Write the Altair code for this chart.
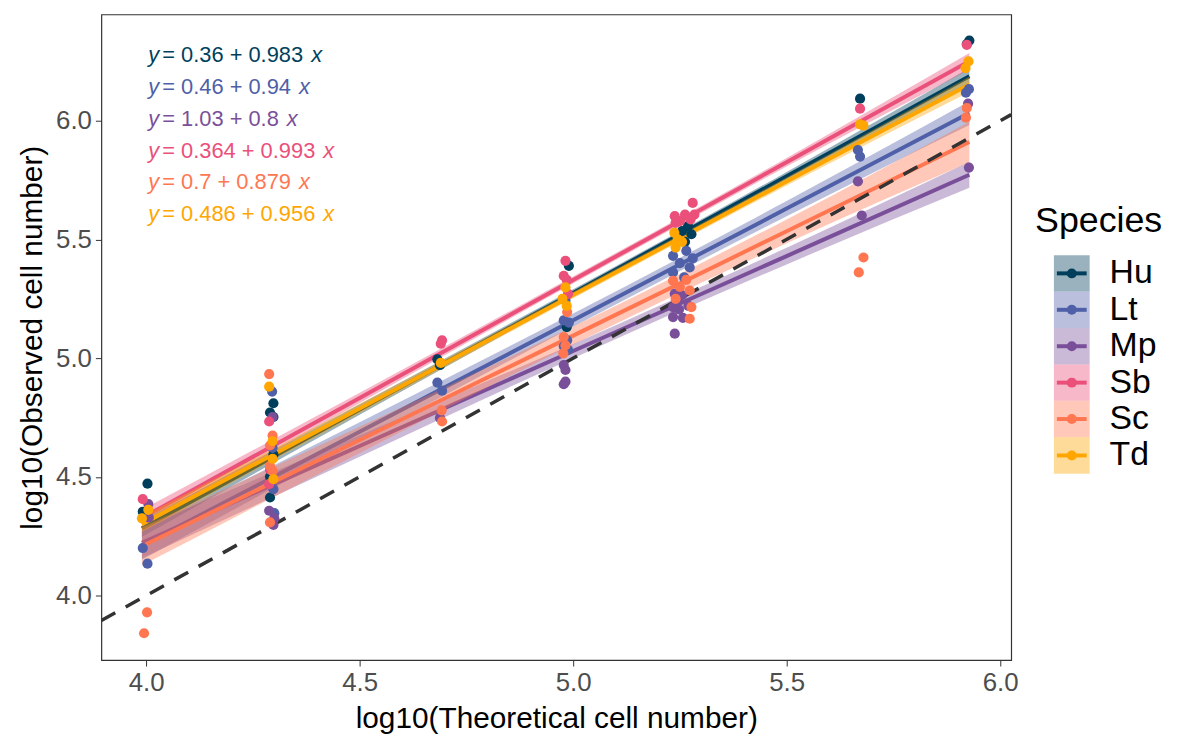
import altair as alt
import pandas as pd

FONT = "Liberation Sans"

SPECIES = ["Hu", "Lt", "Mp", "Sb", "Sc", "Td"]
COLORS = ["#003f5c", "#4f60a8", "#7a4f9a", "#ea507a", "#ff7651", "#ffa600"]
INTERCEPTS = [0.36, 0.46, 1.03, 0.364, 0.7, 0.486]
SLOPES = [0.983, 0.94, 0.8, 0.993, 0.879, 0.956]
EQ_MID = ["= 0.36 + 0.983", "= 0.46 + 0.94", "= 1.03 + 0.8",
          "= 0.364 + 0.993", "= 0.7 + 0.879", "= 0.486 + 0.956"]

X_TICKS = [4.0, 4.5, 5.0, 5.5, 6.0]
Y_TICKS = [4.0, 4.5, 5.0, 5.5, 6.0]
X_DOMAIN = [3.895, 6.026]
Y_DOMAIN = [3.728, 6.448]

# observed points (x, y) per species
HU_X = [4.003, 3.992, 4.298, 4.290, 4.298, 4.298, 4.290, 4.290, 4.682, 4.688,
        4.990, 4.985, 5.269, 5.277, 5.262, 5.255, 5.672, 5.928, 5.922]
HU_Y = [4.471, 4.353, 4.810, 4.771, 4.752, 4.594, 4.501, 4.413, 4.995, 4.971,
        5.389, 5.131, 5.556, 5.522, 5.490, 5.535, 6.093, 6.338, 6.323]
LT_X = [3.992, 4.003, 4.295, 4.296, 4.298, 4.300, 4.682, 4.693, 4.982, 4.978,
        4.990, 4.986, 4.978, 4.988, 5.234, 5.265, 5.273, 5.234, 5.250, 5.260,
        5.280, 5.667, 5.672, 5.927, 5.920]
LT_Y = [4.200, 4.134, 4.859, 4.622, 4.448, 4.347, 4.897, 4.863, 5.243, 5.159,
        5.150, 5.075, 5.050, 5.035, 5.431, 5.452, 5.382, 5.361, 5.400, 5.340,
        5.420, 5.877, 5.849, 6.133, 6.118]
MP_X = [4.005, 4.006, 4.296, 4.288, 4.300, 4.298, 4.688, 4.978, 4.982, 4.982,
        4.978, 5.238, 5.255, 5.234, 5.248, 5.234, 5.257, 5.238, 5.270, 5.245,
        5.667, 5.676, 5.925, 5.927]
MP_Y = [4.385, 4.329, 4.752, 4.357, 4.325, 4.297, 4.748, 4.971, 4.950, 4.901,
        4.890, 5.271, 5.265, 5.215, 5.205, 5.173, 5.170, 5.103, 5.220, 5.240,
        5.745, 5.601, 6.072, 5.803]
SB_X = [3.992, 4.288, 4.288, 4.290, 4.693, 4.690, 4.982, 4.978, 4.985, 4.988,
        5.280, 5.238, 5.262, 5.284, 5.250, 5.275, 5.240, 5.672, 5.922]
SB_Y = [4.406, 4.733, 4.469, 4.530, 5.075, 5.061, 5.410, 5.347, 5.330, 5.271,
        5.654, 5.598, 5.605, 5.605, 5.577, 5.585, 5.570, 6.051, 6.320]
SC_X = [4.002, 3.995, 4.288, 4.296, 4.290, 4.290, 4.296, 4.290, 4.692, 4.693,
        4.986, 4.978, 4.982, 4.977, 5.234, 5.265, 5.250, 5.273, 5.277, 5.273,
        5.240, 5.680, 5.669, 5.922, 5.920]
SC_Y = [3.929, 3.841, 4.933, 4.674, 4.632, 4.545, 4.525, 4.308, 4.780, 4.733,
        5.194, 5.089, 5.054, 5.020, 5.326, 5.330, 5.300, 5.285, 5.215, 5.166,
        5.250, 5.424, 5.361, 6.054, 6.013]
TD_X = [4.005, 3.990, 4.288, 4.296, 4.296, 4.298, 4.690, 4.982, 4.975, 4.985,
        5.237, 5.240, 5.255, 5.245, 5.672, 5.680, 5.926, 5.919]
TD_Y = [4.361, 4.325, 4.880, 4.650, 4.576, 4.490, 4.980, 5.298, 5.250, 5.220,
        5.528, 5.466, 5.490, 5.500, 5.985, 5.980, 6.250, 6.222]

# confidence band half-widths at BAND_X
BAND_X = [3.99, 4.5, 5.0, 5.5, 5.928]
HU_HW = [0.035, 0.022, 0.015, 0.018, 0.035]
LT_HW = [0.060, 0.040, 0.028, 0.032, 0.050]
MP_HW = [0.065, 0.045, 0.030, 0.035, 0.055]
SB_HW = [0.035, 0.022, 0.015, 0.018, 0.035]
SC_HW = [0.080, 0.055, 0.038, 0.050, 0.085]
TD_HW = [0.032, 0.020, 0.014, 0.017, 0.032]

PTS_X = [HU_X, LT_X, MP_X, SB_X, SC_X, TD_X]
PTS_Y = [HU_Y, LT_Y, MP_Y, SB_Y, SC_Y, TD_Y]
HWS = [HU_HW, LT_HW, MP_HW, SB_HW, SC_HW, TD_HW]

rows = []
for s, xs_, ys_ in zip(SPECIES, PTS_X, PTS_Y):
    for a, b in zip(xs_, ys_):
        rows.append({"Species": s, "x": a, "y": b})
pts_df = pd.DataFrame(rows)

brows = []
for s, a, b, hw in zip(SPECIES, INTERCEPTS, SLOPES, HWS):
    for xv, h in zip(BAND_X, hw):
        fit = a + b * xv
        brows.append({"Species": s, "x": xv, "fit": fit, "lo": fit - h, "hi": fit + h})
band_df = pd.DataFrame(brows)

abline_df = pd.DataFrame({"x": X_DOMAIN, "y": X_DOMAIN})

# equation text layout
W, H = 916, 650
PXU = W / (X_DOMAIN[1] - X_DOMAIN[0])
EQ_FS = 22
CW = {"0": .556, "1": .556, "2": .556, "3": .556, "4": .556, "5": .556, "6": .556,
      "7": .556, "8": .556, "9": .556, ".": .278, " ": .278, "=": .584, "+": .584}


def tw(t):
    return sum(CW.get(c, .556) for c in t) * EQ_FS


erows = []
for i, (s, m) in enumerate(zip(SPECIES, EQ_MID)):
    ty = 6.275 - 0.1335 * i
    x0 = 4.005
    xm = x0 + 14 / PXU
    xx = xm + (tw(m) + 8) / PXU
    erows.append({"Species": s, "ty": ty, "x0": x0, "xm": xm, "xx": xx, "mid": m,
                  "yy": "y", "xl": "x"})
eq_df = pd.DataFrame(erows)

cscale = alt.Scale(domain=SPECIES, range=COLORS)
col = alt.Color("Species:N", scale=cscale, legend=None)
xsc = alt.Scale(domain=X_DOMAIN, nice=False, zero=False)
ysc = alt.Scale(domain=Y_DOMAIN, nice=False, zero=False)
xax = alt.Axis(values=X_TICKS, format=".1f", title="log10(Theoretical cell number)")
yax = alt.Axis(values=Y_TICKS, format=".1f", title="log10(Observed cell number)")

layers = []
for s in SPECIES:
    base = alt.Chart(band_df).transform_filter(alt.datum.Species == s)
    layers.append(base.mark_area(opacity=0.4, interpolate="monotone").encode(
        x=alt.X("x:Q", scale=xsc, axis=xax),
        y=alt.Y("lo:Q", scale=ysc, axis=yax),
        y2="hi:Q", color=col))
    layers.append(base.mark_line(strokeWidth=4, interpolate="monotone").encode(
        x=alt.X("x:Q", scale=xsc, axis=xax),
        y=alt.Y("fit:Q", scale=ysc, axis=yax),
        color=col))

layers.append(alt.Chart(abline_df).mark_line(
    color="#333333", strokeWidth=3.5, strokeDash=[16, 12], clip=True).encode(
    x=alt.X("x:Q", scale=xsc, axis=xax), y=alt.Y("y:Q", scale=ysc, axis=yax)))

layers.append(alt.Chart(pts_df).mark_circle(size=105, opacity=1).encode(
    x=alt.X("x:Q", scale=xsc, axis=xax), y=alt.Y("y:Q", scale=ysc, axis=yax),
    color=col))

eb = alt.Chart(eq_df)
layers.append(eb.mark_text(align="left", baseline="middle", font=FONT, fontSize=EQ_FS,
                           fontStyle="italic").encode(
    x=alt.X("x0:Q", scale=xsc, axis=xax), y=alt.Y("ty:Q", scale=ysc, axis=yax),
    text="yy:N", color=col))
layers.append(eb.mark_text(align="left", baseline="middle", font=FONT, fontSize=EQ_FS).encode(
    x=alt.X("xm:Q", scale=xsc, axis=xax), y=alt.Y("ty:Q", scale=ysc, axis=yax),
    text="mid:N", color=col))
layers.append(eb.mark_text(align="left", baseline="middle", font=FONT, fontSize=EQ_FS,
                           fontStyle="italic").encode(
    x=alt.X("xx:Q", scale=xsc, axis=xax), y=alt.Y("ty:Q", scale=ysc, axis=yax),
    text="xl:N", color=col))

main = alt.layer(*layers).properties(width=W, height=H)

# legend panel
leg_df = pd.DataFrame({"Species": SPECIES, "idx": list(range(len(SPECIES)))})
leg_y = alt.Scale(domain=[0, 5], range=[260.7, 444])
lb = alt.Chart(leg_df).transform_calculate(lo="datum.idx - 0.5", hi="datum.idx + 0.5")
leg_rect = lb.mark_rect(opacity=0.4).encode(
    x=alt.value(20), x2=alt.value(56),
    y=alt.Y("lo:Q", scale=leg_y, axis=None), y2="hi:Q", color=col)
leg_rule = lb.mark_rule(strokeWidth=4).encode(
    x=alt.value(23), x2=alt.value(53),
    y=alt.Y("idx:Q", scale=leg_y, axis=None), color=col)
leg_pt = lb.mark_circle(size=100, opacity=1).encode(
    x=alt.value(38), y=alt.Y("idx:Q", scale=leg_y, axis=None), color=col)
leg_txt = lb.mark_text(align="left", baseline="middle", font=FONT, fontSize=34,
                       color="black").encode(
    x=alt.value(76), y=alt.Y("idx:Q", scale=leg_y, axis=None), text="Species:N")
leg_title = alt.Chart(pd.DataFrame({"t": ["Species"]})).mark_text(
    align="left", baseline="middle", font=FONT, fontSize=36, color="black").encode(
    x=alt.value(1), y=alt.value(208), text="t:N")
legend = alt.layer(leg_rect, leg_rule, leg_pt, leg_txt, leg_title).properties(
    width=150, height=H, view=alt.ViewBackground(strokeOpacity=0))

chart = alt.hconcat(main, legend, spacing=15).properties(
    padding={"left": 9, "top": 3, "right": 5, "bottom": 5}
).configure_view(stroke="#333333", strokeWidth=1.2).configure_axis(
    grid=False, domain=False, ticks=True, tickColor="#333333", tickSize=6,
    labelFont=FONT, labelFontSize=26, labelColor="#4d4d4d", labelPadding=4,
    titleFont=FONT, titleFontSize=30, titleColor="black", titleFontWeight="normal",
    titlePadding=8
)

chart.save("out.html", embed_options={"renderer": "svg", "actions": False})
